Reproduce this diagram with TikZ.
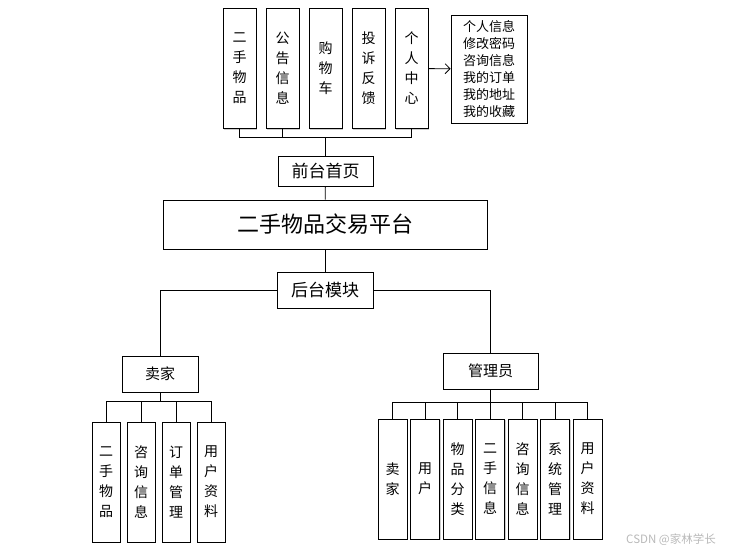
\documentclass[tikz,border=0pt]{standalone}
\usepackage{fontspec}
\setmainfont{Noto Sans CJK SC}
\usepackage{tikz}
\usetikzlibrary{positioning}
\usetikzlibrary{arrows.meta}
\usetikzlibrary{shadows}

\begin{document}
\begin{tikzpicture}[x=1pt,y=-1pt,line width=0.8pt]
\tikzset{basic/.style={draw,fill=white,inner sep=0pt,drop shadow={shadow xshift=1.2pt,shadow yshift=-1.2pt,fill=gray!80,opacity=0.5}}}
\tikzset{vtop/.style={basic,minimum width=33pt,minimum height=120pt,align=center,font=\fontsize{14}{20}\selectfont}}
\tikzset{vleaf/.style={basic,minimum width=28pt,minimum height=120pt,align=center,font=\fontsize{14}{20}\selectfont}}
\tikzset{level/.style={basic,minimum height=36pt,font=\fontsize{15}{18}\selectfont}}
\useasboundingbox (0,0) rectangle (734,554);
    % front end
        \node[vtop] (goods) at (239.5,68.5) {二\\手\\物\\品};
        \node[vtop,right=9.2pt of goods] (notice) {公\\告\\信\\息};
        \node[vtop,right=9.2pt of notice] (cart) {购\\物\\车};
        \node[vtop,right=9.2pt of cart] (complain) {投\\诉\\反\\馈};
        \node[vtop,right=9.2pt of complain] (personal) {个\\人\\中\\心};
        \node[basic,minimum width=76pt,minimum height=108pt,align=left,font=\fontsize{13}{17}\selectfont] (menu) at (489,69)
        {个人信息\\修改密码\\咨询信息\\我的订单\\我的地址\\我的收藏};
            \path[draw,-{Straight Barb[length=5pt,width=10pt]}] (personal) -- (menu);
        \node[level,minimum width=95pt,minimum height=30pt,font=\fontsize{17}{20}\selectfont] (front) at (325.5,171) {前台首页};
        \coordinate (topbus) at (325.5,137);
            \path[draw] (goods.south) |- (topbus);
            \path[draw] (personal.south) |- (topbus);
            \path[draw] (notice.south) -- (notice.south |- topbus);
            \path[draw] (topbus) -- (front.north);
    % platform
        \node[basic,minimum width=324pt,minimum height=49pt,font=\fontsize{22}{26}\selectfont] (platform) at (325,224.5) {二手物品交易平台};
            \path[draw] (front) -- (platform);
        \node[level,minimum width=96pt,font=\fontsize{17}{20}\selectfont] (back) at (325,290) {后台模块};
            \path[draw] (platform) -- (back);
    % seller
        \node[level,minimum width=76pt] (seller) at (160,374) {卖家};
            \path[draw] (back.west) -| (seller.north);
        \node[vleaf] (s1) at (106,482) {二\\手\\物\\品};
        \node[vleaf,right=6.2pt of s1] (s2) {咨\\询\\信\\息};
        \node[vleaf,right=6.2pt of s2] (s3) {订\\单\\管\\理};
        \node[vleaf,right=6.2pt of s3] (s4) {用\\户\\资\\料};
        \coordinate (sbus) at (160,401);
            \path[draw] (seller.south) -- (sbus);
            \path[draw] (s1.north) |- (sbus);
            \path[draw] (s2.north) |- (sbus);
            \path[draw] (s3.north) |- (sbus);
            \path[draw] (s4.north) |- (sbus);
    % admin
        \node[level,minimum width=95pt] (admin) at (490.5,371) {管理员};
            \path[draw] (back.east) -| (admin.north);
        \node[vleaf,minimum width=29pt] (a1) at (392.5,479) {卖\\家};
        \node[vleaf,minimum width=29pt,right=2.7pt of a1] (a2) {用\\户};
        \node[vleaf,minimum width=29pt,right=2.7pt of a2] (a3) {物\\品\\分\\类};
        \node[vleaf,minimum width=29pt,right=2.7pt of a3] (a4) {二\\手\\信\\息};
        \node[vleaf,minimum width=29pt,right=2.7pt of a4] (a5) {咨\\询\\信\\息};
        \node[vleaf,minimum width=29pt,right=2.7pt of a5] (a6) {系\\统\\管\\理};
        \node[vleaf,minimum width=29pt,right=2.7pt of a6] (a7) {用\\户\\资\\料};
        \coordinate (abus) at (490.5,402);
            \path[draw] (admin.south) -- (abus);
            \path[draw] (a1.north) |- (abus);
            \path[draw] (a2.north) |- (abus);
            \path[draw] (a3.north) |- (abus);
            \path[draw] (a4.north) |- (abus);
            \path[draw] (a5.north) |- (abus);
            \path[draw] (a6.north) |- (abus);
            \path[draw] (a7.north) |- (abus);
        \node[text=gray!55,font=\fontsize{11.5}{13}\selectfont] (mark) at (671,540) {CSDN @家林学长};
\end{tikzpicture}
\end{document}
